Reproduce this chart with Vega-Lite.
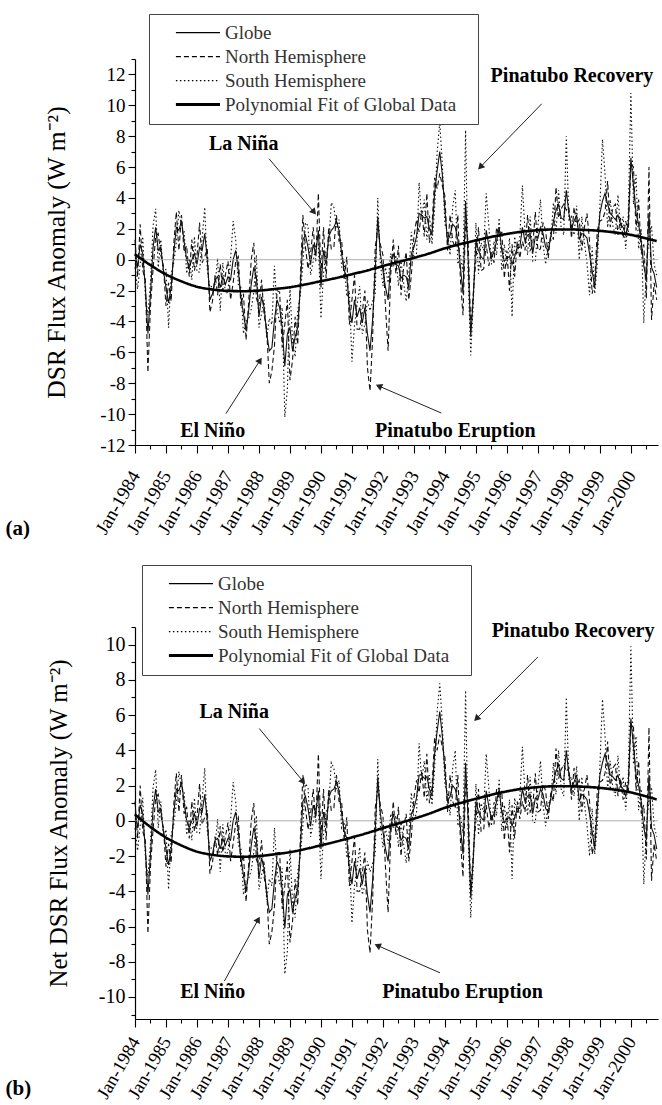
{
"$schema": "https://vega.github.io/schema/vega-lite/v6.json",
"padding": {"left": 5, "top": 13, "right": 0, "bottom": 0},
"background": "white",
"spacing": 26,
"config": {
  "view": {"stroke": null},
  "font": "Liberation Serif",
  "axis": {"grid": false, "domainColor": "black", "tickColor": "black", "labelColor": "black", "titleColor": "black", "labelFont": "Liberation Serif", "titleFont": "Liberation Serif", "titleFontWeight": "normal", "domainWidth": 1.2, "tickWidth": 1.1, "labelOverlap": false, "labelFlush": false, "labelBound": false, "tickCount": 100}
},
"resolve": {"scale": {"strokeDash": "independent"}, "legend": {"strokeDash": "independent"}},
"datasets": {
"d": [
{"m":0,"g":0.4,"n":1.3,"s":-0.5,"G":0.4,"N":1.1,"S":-0.4},
{"m":1,"g":-0.5,"n":-1.1,"s":-1.9,"G":-0.4,"N":-1.0,"S":-1.7},
{"m":2,"g":1.0,"n":2.3,"s":-0.3,"G":0.9,"N":2.0,"S":-0.3},
{"m":3,"g":0.4,"n":-0.7,"s":1.5,"G":0.4,"N":-0.6,"S":1.3},
{"m":4,"g":-1.8,"n":-1.3,"s":-2.3,"G":-1.6,"N":-1.1,"S":-2.0},
{"m":5,"g":-4.8,"n":-7.3,"s":-3.6,"G":-4.2,"N":-6.4,"S":-3.2},
{"m":6,"g":-2.2,"n":-3.0,"s":-1.4,"G":-1.9,"N":-2.6,"S":-1.2},
{"m":7,"g":0.8,"n":-0.6,"s":2.2,"G":0.7,"N":-0.5,"S":1.9},
{"m":8,"g":2.1,"n":1.5,"s":3.3,"G":1.8,"N":1.3,"S":2.9},
{"m":9,"g":0.6,"n":1.7,"s":-0.5,"G":0.5,"N":1.5,"S":-0.4},
{"m":10,"g":0.8,"n":0.3,"s":1.3,"G":0.7,"N":0.3,"S":1.1},
{"m":11,"g":-0.7,"n":-0.4,"s":-1.0,"G":-0.6,"N":-0.4,"S":-0.9},
{"m":12,"g":-1.8,"n":-3.0,"s":-0.6,"G":-1.6,"N":-2.6,"S":-0.5},
{"m":13,"g":-2.8,"n":-1.5,"s":-4.4,"G":-2.5,"N":-1.3,"S":-3.9},
{"m":14,"g":-1.8,"n":-2.7,"s":-0.9,"G":-1.6,"N":-2.4,"S":-0.8},
{"m":15,"g":0.4,"n":1.0,"s":-0.2,"G":0.4,"N":0.9,"S":-0.2},
{"m":16,"g":2.1,"n":3.1,"s":1.1,"G":1.8,"N":2.7,"S":1.0},
{"m":17,"g":1.9,"n":0.6,"s":3.2,"G":1.7,"N":0.5,"S":2.8},
{"m":18,"g":2.5,"n":2.9,"s":2.1,"G":2.2,"N":2.6,"S":1.8},
{"m":19,"g":1.2,"n":0.5,"s":1.9,"G":1.1,"N":0.4,"S":1.7},
{"m":20,"g":0.0,"n":0.9,"s":-0.9,"G":0.0,"N":0.8,"S":-0.8},
{"m":21,"g":-0.5,"n":-1.1,"s":0.1,"G":-0.4,"N":-1.0,"S":0.1},
{"m":22,"g":0.0,"n":1.3,"s":-1.3,"G":0.0,"N":1.1,"S":-1.1},
{"m":23,"g":0.4,"n":-0.7,"s":1.5,"G":0.4,"N":-0.6,"S":1.3},
{"m":24,"g":-0.3,"n":0.2,"s":-0.8,"G":-0.3,"N":0.2,"S":-0.7},
{"m":25,"g":0.8,"n":2.4,"s":-0.8,"G":0.7,"N":2.1,"S":-0.7},
{"m":26,"g":0.6,"n":-0.2,"s":1.4,"G":0.5,"N":-0.2,"S":1.2},
{"m":27,"g":1.7,"n":0.2,"s":3.4,"G":1.5,"N":0.2,"S":3.0},
{"m":28,"g":0.0,"n":0.7,"s":-0.7,"G":0.0,"N":0.6,"S":-0.6},
{"m":29,"g":-2.6,"n":-3.4,"s":-1.8,"G":-2.3,"N":-3.0,"S":-1.6},
{"m":30,"g":-2.2,"n":-2.7,"s":-1.7,"G":-1.9,"N":-2.4,"S":-1.5},
{"m":31,"g":-1.3,"n":-1.0,"s":-1.6,"G":-1.1,"N":-0.9,"S":-1.4},
{"m":32,"g":-1.1,"n":-2.3,"s":0.1,"G":-1.0,"N":-2.0,"S":0.1},
{"m":33,"g":-1.8,"n":-0.3,"s":-3.3,"G":-1.6,"N":-0.3,"S":-2.9},
{"m":34,"g":-1.1,"n":-2.0,"s":-0.2,"G":-1.0,"N":-1.8,"S":-0.2},
{"m":35,"g":-1.6,"n":-1.0,"s":-2.2,"G":-1.4,"N":-0.9,"S":-1.9},
{"m":36,"g":-1.1,"n":-0.1,"s":-2.1,"G":-1.0,"N":-0.1,"S":-1.8},
{"m":37,"g":-1.3,"n":-2.6,"s":0.0,"G":-1.1,"N":-2.3,"S":0.0},
{"m":38,"g":0.0,"n":-1.5,"s":2.5,"G":0.0,"N":-1.3,"S":2.2},
{"m":39,"g":0.6,"n":-0.1,"s":1.3,"G":0.5,"N":-0.1,"S":1.1},
{"m":40,"g":-0.7,"n":0.2,"s":-1.6,"G":-0.6,"N":0.2,"S":-1.4},
{"m":41,"g":-2.4,"n":-3.0,"s":-1.8,"G":-2.1,"N":-2.6,"S":-1.6},
{"m":42,"g":-3.5,"n":-2.2,"s":-4.8,"G":-3.1,"N":-1.9,"S":-4.2},
{"m":43,"g":-4.6,"n":-5.2,"s":-4.0,"G":-4.0,"N":-4.6,"S":-3.5},
{"m":44,"g":-3.3,"n":-2.8,"s":-3.8,"G":-2.9,"N":-2.5,"S":-3.3},
{"m":45,"g":-1.6,"n":0.0,"s":-3.2,"G":-1.4,"N":0.0,"S":-2.8},
{"m":46,"g":-0.5,"n":1.1,"s":-2.1,"G":-0.4,"N":1.0,"S":-1.8},
{"m":47,"g":-1.1,"n":-2.5,"s":0.3,"G":-1.0,"N":-2.2,"S":0.3},
{"m":48,"g":-3.7,"n":-3.0,"s":-4.4,"G":-3.3,"N":-2.6,"S":-3.9},
{"m":49,"g":-2.4,"n":-1.3,"s":-3.5,"G":-2.1,"N":-1.1,"S":-3.1},
{"m":50,"g":-3.1,"n":-3.6,"s":-2.6,"G":-2.7,"N":-3.2,"S":-2.3},
{"m":51,"g":-4.8,"n":-4.5,"s":-5.1,"G":-4.2,"N":-4.0,"S":-4.5},
{"m":52,"g":-5.9,"n":-8.0,"s":-3.8,"G":-5.2,"N":-7.0,"S":-3.3},
{"m":53,"g":-5.7,"n":-7.2,"s":-4.2,"G":-5.0,"N":-6.3,"S":-3.7},
{"m":54,"g":-3.9,"n":-5.6,"s":-0.4,"G":-3.4,"N":-4.9,"S":-0.4},
{"m":55,"g":-2.6,"n":-2.0,"s":-3.2,"G":-2.3,"N":-1.8,"S":-2.8},
{"m":56,"g":-3.1,"n":-2.1,"s":-4.1,"G":-2.7,"N":-1.8,"S":-3.6},
{"m":57,"g":-4.4,"n":-5.7,"s":-3.1,"G":-3.9,"N":-5.0,"S":-2.7},
{"m":58,"g":-6.9,"n":-4.2,"s":-10.2,"G":-6.1,"N":-3.7,"S":-8.7},
{"m":59,"g":-4.8,"n":-2.6,"s":-8.4,"G":-4.2,"N":-2.3,"S":-7.4},
{"m":60,"g":-4.4,"n":-7.8,"s":-1.8,"G":-3.9,"N":-6.9,"S":-1.6},
{"m":61,"g":-5.9,"n":-6.5,"s":-5.3,"G":-5.2,"N":-5.7,"S":-4.7},
{"m":62,"g":-5.0,"n":-3.7,"s":-6.3,"G":-4.4,"N":-3.3,"S":-5.5},
{"m":63,"g":-4.4,"n":-5.5,"s":-3.3,"G":-3.9,"N":-4.8,"S":-2.9},
{"m":64,"g":-1.8,"n":-1.3,"s":-2.3,"G":-1.6,"N":-1.1,"S":-2.0},
{"m":65,"g":1.3,"n":2.9,"s":-0.3,"G":1.1,"N":2.6,"S":-0.3},
{"m":66,"g":1.6,"n":0.8,"s":2.4,"G":1.4,"N":0.7,"S":2.1},
{"m":67,"g":0.8,"n":-0.6,"s":2.2,"G":0.7,"N":-0.5,"S":1.9},
{"m":68,"g":-0.3,"n":0.4,"s":-1.0,"G":-0.3,"N":0.4,"S":-0.9},
{"m":69,"g":1.0,"n":2.1,"s":-0.1,"G":0.9,"N":1.8,"S":-0.1},
{"m":70,"g":0.4,"n":-0.1,"s":0.9,"G":0.4,"N":-0.1,"S":0.8},
{"m":71,"g":1.9,"n":4.3,"s":1.0,"G":1.7,"N":3.8,"S":0.9},
{"m":72,"g":-1.8,"n":-1.0,"s":-3.8,"G":-1.6,"N":-0.9,"S":-3.3},
{"m":73,"g":0.6,"n":2.1,"s":-0.9,"G":0.5,"N":1.8,"S":-0.8},
{"m":74,"g":-0.3,"n":-1.2,"s":0.6,"G":-0.3,"N":-1.1,"S":0.5},
{"m":75,"g":1.5,"n":2.1,"s":0.9,"G":1.3,"N":1.8,"S":0.8},
{"m":76,"g":1.9,"n":0.7,"s":3.7,"G":1.7,"N":0.6,"S":3.3},
{"m":77,"g":2.1,"n":0.8,"s":3.4,"G":1.8,"N":0.7,"S":3.0},
{"m":78,"g":2.5,"n":2.9,"s":2.1,"G":2.2,"N":2.6,"S":1.8},
{"m":79,"g":1.9,"n":1.2,"s":2.6,"G":1.7,"N":1.1,"S":2.3},
{"m":80,"g":0.4,"n":1.3,"s":-0.5,"G":0.4,"N":1.1,"S":-0.4},
{"m":81,"g":-0.7,"n":-1.3,"s":-0.1,"G":-0.6,"N":-1.1,"S":-0.1},
{"m":82,"g":-1.1,"n":0.2,"s":-2.4,"G":-1.0,"N":0.2,"S":-2.1},
{"m":83,"g":-3.1,"n":-4.2,"s":-2.0,"G":-2.7,"N":-3.7,"S":-1.8},
{"m":84,"g":-4.1,"n":-2.6,"s":-6.6,"G":-3.6,"N":-2.3,"S":-5.8},
{"m":85,"g":-2.6,"n":-1.0,"s":-4.2,"G":-2.3,"N":-0.9,"S":-3.7},
{"m":86,"g":-3.7,"n":-4.5,"s":-2.9,"G":-3.3,"N":-4.0,"S":-2.6},
{"m":87,"g":-3.1,"n":-4.5,"s":-1.7,"G":-2.7,"N":-4.0,"S":-1.5},
{"m":88,"g":-4.1,"n":-3.4,"s":-4.8,"G":-3.6,"N":-3.0,"S":-4.2},
{"m":89,"g":-3.1,"n":-2.0,"s":-4.2,"G":-2.7,"N":-1.8,"S":-3.7},
{"m":90,"g":-4.8,"n":-7.0,"s":-2.6,"G":-4.2,"N":-6.2,"S":-2.3},
{"m":91,"g":-5.9,"n":-8.5,"s":-3.3,"G":-5.2,"N":-7.5,"S":-2.9},
{"m":92,"g":-3.9,"n":-5.1,"s":-2.7,"G":-3.4,"N":-4.5,"S":-2.4},
{"m":93,"g":-0.7,"n":0.8,"s":-2.2,"G":-0.6,"N":0.7,"S":-1.9},
{"m":94,"g":2.8,"n":2.0,"s":4.0,"G":2.5,"N":1.8,"S":3.5},
{"m":95,"g":0.4,"n":1.0,"s":-0.2,"G":0.4,"N":0.9,"S":-0.2},
{"m":96,"g":-0.7,"n":0.3,"s":-1.7,"G":-0.6,"N":0.3,"S":-1.5},
{"m":97,"g":-1.8,"n":-3.1,"s":-0.5,"G":-1.6,"N":-2.7,"S":-0.4},
{"m":98,"g":-2.6,"n":-5.9,"s":-1.5,"G":-2.3,"N":-5.2,"S":-1.3},
{"m":99,"g":-0.3,"n":-1.0,"s":0.4,"G":-0.3,"N":-0.9,"S":0.4},
{"m":100,"g":0.4,"n":1.3,"s":-0.5,"G":0.4,"N":1.1,"S":-0.4},
{"m":101,"g":-0.3,"n":-0.9,"s":0.3,"G":-0.3,"N":-0.8,"S":0.3},
{"m":102,"g":-0.4,"n":0.9,"s":-1.7,"G":-0.4,"N":0.8,"S":-1.5},
{"m":103,"g":-1.2,"n":-2.3,"s":-0.1,"G":-1.1,"N":-2.0,"S":-0.1},
{"m":104,"g":-1.0,"n":-0.5,"s":-1.5,"G":-0.9,"N":-0.4,"S":-1.3},
{"m":105,"g":-1.1,"n":0.5,"s":-2.7,"G":-1.0,"N":0.4,"S":-2.4},
{"m":106,"g":-1.8,"n":-2.6,"s":-1.0,"G":-1.6,"N":-2.3,"S":-0.9},
{"m":107,"g":0.4,"n":-1.0,"s":1.8,"G":0.4,"N":-0.9,"S":1.6},
{"m":108,"g":0.8,"n":1.5,"s":0.1,"G":0.7,"N":1.3,"S":0.1},
{"m":109,"g":1.5,"n":2.6,"s":0.4,"G":1.3,"N":2.3,"S":0.4},
{"m":110,"g":3.0,"n":1.8,"s":5.0,"G":2.6,"N":1.6,"S":4.4},
{"m":111,"g":2.9,"n":3.2,"s":2.6,"G":2.6,"N":2.8,"S":2.3},
{"m":112,"g":2.7,"n":1.5,"s":3.9,"G":2.4,"N":1.3,"S":3.4},
{"m":113,"g":2.8,"n":4.3,"s":1.3,"G":2.5,"N":3.8,"S":1.1},
{"m":114,"g":2.0,"n":1.1,"s":2.9,"G":1.8,"N":1.0,"S":2.6},
{"m":115,"g":1.6,"n":2.2,"s":1.0,"G":1.4,"N":1.9,"S":0.9},
{"m":116,"g":4.3,"n":5.3,"s":3.3,"G":3.8,"N":4.7,"S":2.9},
{"m":117,"g":5.8,"n":4.6,"s":7.0,"G":5.1,"N":4.0,"S":6.2},
{"m":118,"g":7.0,"n":5.6,"s":8.9,"G":6.2,"N":4.9,"S":7.8},
{"m":119,"g":5.5,"n":4.8,"s":6.2,"G":4.8,"N":4.2,"S":5.5},
{"m":120,"g":3.2,"n":4.1,"s":2.3,"G":2.8,"N":3.6,"S":2.0},
{"m":121,"g":1.2,"n":0.6,"s":1.8,"G":1.1,"N":0.5,"S":1.6},
{"m":122,"g":1.6,"n":2.9,"s":0.3,"G":1.4,"N":2.6,"S":0.3},
{"m":123,"g":2.3,"n":1.2,"s":3.4,"G":2.0,"N":1.1,"S":3.0},
{"m":124,"g":2.1,"n":0.8,"s":4.5,"G":1.8,"N":0.7,"S":4.0},
{"m":125,"g":1.3,"n":2.9,"s":-0.3,"G":1.1,"N":2.6,"S":-0.3},
{"m":126,"g":-0.5,"n":-1.3,"s":0.3,"G":-0.4,"N":-1.1,"S":0.3},
{"m":127,"g":-2.2,"n":-3.6,"s":-0.8,"G":-1.9,"N":-3.2,"S":-0.7},
{"m":128,"g":3.8,"n":2.5,"s":8.4,"G":3.3,"N":2.2,"S":7.4},
{"m":129,"g":0.0,"n":1.1,"s":-1.1,"G":0.0,"N":1.0,"S":-1.0},
{"m":130,"g":-5.0,"n":-4.5,"s":-6.2,"G":-4.4,"N":-4.0,"S":-5.5},
{"m":131,"g":-2.4,"n":-2.1,"s":-2.7,"G":-2.1,"N":-1.8,"S":-2.4},
{"m":132,"g":1.2,"n":0.0,"s":2.4,"G":1.1,"N":0.0,"S":2.1},
{"m":133,"g":0.6,"n":2.1,"s":-0.9,"G":0.5,"N":1.8,"S":-0.8},
{"m":134,"g":0.2,"n":-0.7,"s":1.1,"G":0.2,"N":-0.6,"S":1.0},
{"m":135,"g":0.0,"n":-0.6,"s":0.6,"G":0.0,"N":-0.5,"S":0.5},
{"m":136,"g":1.9,"n":1.0,"s":4.3,"G":1.7,"N":0.9,"S":3.8},
{"m":137,"g":0.9,"n":-0.4,"s":2.2,"G":0.8,"N":-0.4,"S":1.9},
{"m":138,"g":0.1,"n":0.5,"s":-0.3,"G":0.1,"N":0.4,"S":-0.3},
{"m":139,"g":0.5,"n":-0.2,"s":1.2,"G":0.4,"N":-0.2,"S":1.1},
{"m":140,"g":1.2,"n":2.1,"s":0.3,"G":1.1,"N":1.8,"S":0.3},
{"m":141,"g":2.1,"n":1.5,"s":2.7,"G":1.8,"N":1.3,"S":2.4},
{"m":142,"g":0.6,"n":1.9,"s":-0.7,"G":0.5,"N":1.7,"S":-0.6},
{"m":143,"g":-0.1,"n":-1.2,"s":1.0,"G":-0.1,"N":-1.1,"S":0.9},
{"m":144,"g":0.1,"n":0.6,"s":-0.4,"G":0.1,"N":0.5,"S":-0.4},
{"m":145,"g":0.2,"n":-2.0,"s":1.4,"G":0.2,"N":-1.8,"S":1.2},
{"m":146,"g":-0.3,"n":1.0,"s":-3.7,"G":-0.3,"N":0.9,"S":-3.3},
{"m":147,"g":0.2,"n":-1.1,"s":1.5,"G":0.2,"N":-1.0,"S":1.3},
{"m":148,"g":0.8,"n":1.2,"s":0.4,"G":0.7,"N":1.1,"S":0.4},
{"m":149,"g":0.8,"n":0.1,"s":1.5,"G":0.7,"N":0.1,"S":1.3},
{"m":150,"g":2.1,"n":1.2,"s":4.8,"G":1.8,"N":1.1,"S":4.2},
{"m":151,"g":1.2,"n":0.6,"s":1.8,"G":1.1,"N":0.5,"S":1.6},
{"m":152,"g":1.6,"n":2.9,"s":0.3,"G":1.4,"N":2.6,"S":0.3},
{"m":153,"g":1.7,"n":0.6,"s":2.8,"G":1.5,"N":0.5,"S":2.5},
{"m":154,"g":0.4,"n":0.9,"s":-0.1,"G":0.4,"N":0.8,"S":-0.1},
{"m":155,"g":1.5,"n":3.1,"s":-0.1,"G":1.3,"N":2.7,"S":-0.1},
{"m":156,"g":1.4,"n":0.6,"s":2.2,"G":1.2,"N":0.5,"S":1.9},
{"m":157,"g":2.1,"n":0.7,"s":3.9,"G":1.8,"N":0.6,"S":3.4},
{"m":158,"g":1.7,"n":2.4,"s":1.0,"G":1.5,"N":2.1,"S":0.9},
{"m":159,"g":0.8,"n":1.9,"s":-0.3,"G":0.7,"N":1.7,"S":-0.3},
{"m":160,"g":0.6,"n":0.1,"s":1.1,"G":0.5,"N":0.1,"S":1.0},
{"m":161,"g":1.5,"n":1.8,"s":1.2,"G":1.3,"N":1.6,"S":1.1},
{"m":162,"g":2.5,"n":1.3,"s":3.7,"G":2.2,"N":1.1,"S":3.3},
{"m":163,"g":3.2,"n":4.7,"s":1.7,"G":2.8,"N":4.1,"S":1.5},
{"m":164,"g":3.6,"n":2.7,"s":4.5,"G":3.2,"N":2.4,"S":4.0},
{"m":165,"g":2.7,"n":3.3,"s":2.1,"G":2.4,"N":2.9,"S":1.8},
{"m":166,"g":2.6,"n":3.6,"s":1.6,"G":2.3,"N":3.2,"S":1.4},
{"m":167,"g":4.5,"n":3.2,"s":8.0,"G":4.0,"N":2.8,"S":7.0},
{"m":168,"g":3.0,"n":3.4,"s":2.6,"G":2.6,"N":3.0,"S":2.3},
{"m":169,"g":2.1,"n":1.4,"s":2.8,"G":1.8,"N":1.2,"S":2.5},
{"m":170,"g":2.5,"n":3.4,"s":1.6,"G":2.2,"N":3.0,"S":1.4},
{"m":171,"g":2.9,"n":2.3,"s":3.5,"G":2.6,"N":2.0,"S":3.1},
{"m":172,"g":1.3,"n":2.6,"s":0.0,"G":1.1,"N":2.3,"S":0.0},
{"m":173,"g":1.7,"n":0.6,"s":2.8,"G":1.5,"N":0.5,"S":2.5},
{"m":174,"g":1.6,"n":2.1,"s":1.1,"G":1.4,"N":1.8,"S":1.0},
{"m":175,"g":1.4,"n":3.0,"s":-0.2,"G":1.2,"N":2.6,"S":-0.2},
{"m":176,"g":0.4,"n":1.2,"s":-2.3,"G":0.4,"N":1.1,"S":-2.0},
{"m":177,"g":-0.7,"n":-2.2,"s":0.8,"G":-0.6,"N":-1.9,"S":0.7},
{"m":178,"g":-1.8,"n":-1.4,"s":-2.2,"G":-1.6,"N":-1.2,"S":-1.9},
{"m":179,"g":0.8,"n":1.9,"s":-0.3,"G":0.7,"N":1.7,"S":-0.3},
{"m":180,"g":3.0,"n":2.5,"s":3.5,"G":2.6,"N":2.2,"S":3.1},
{"m":181,"g":3.8,"n":2.6,"s":7.8,"G":3.3,"N":2.3,"S":6.9},
{"m":182,"g":4.3,"n":3.1,"s":5.5,"G":3.8,"N":2.7,"S":4.8},
{"m":183,"g":3.6,"n":5.1,"s":2.1,"G":3.2,"N":4.5,"S":1.8},
{"m":184,"g":3.0,"n":2.1,"s":3.9,"G":2.6,"N":1.8,"S":3.4},
{"m":185,"g":2.8,"n":3.4,"s":2.2,"G":2.5,"N":3.0,"S":1.9},
{"m":186,"g":2.6,"n":3.6,"s":1.6,"G":2.3,"N":3.2,"S":1.4},
{"m":187,"g":2.9,"n":1.6,"s":4.2,"G":2.6,"N":1.4,"S":3.7},
{"m":188,"g":2.3,"n":2.7,"s":1.9,"G":2.0,"N":2.4,"S":1.7},
{"m":189,"g":2.1,"n":1.4,"s":2.8,"G":1.8,"N":1.2,"S":2.5},
{"m":190,"g":1.6,"n":2.5,"s":0.7,"G":1.4,"N":2.2,"S":0.6},
{"m":191,"g":2.4,"n":1.8,"s":3.0,"G":2.1,"N":1.6,"S":2.6},
{"m":192,"g":6.6,"n":6.2,"s":10.8,"G":5.8,"N":5.5,"S":9.9},
{"m":193,"g":4.8,"n":6.0,"s":3.6,"G":4.2,"N":5.3,"S":3.2},
{"m":194,"g":3.0,"n":1.9,"s":5.5,"G":2.6,"N":1.7,"S":4.8},
{"m":195,"g":2.3,"n":3.9,"s":0.7,"G":2.0,"N":3.4,"S":0.6},
{"m":196,"g":1.2,"n":0.4,"s":2.0,"G":1.1,"N":0.4,"S":1.8},
{"m":197,"g":-0.4,"n":1.0,"s":-4.1,"G":-0.4,"N":0.9,"S":-3.6},
{"m":198,"g":-1.3,"n":-2.5,"s":-0.6,"G":-1.1,"N":-2.2,"S":-0.5},
{"m":199,"g":3.0,"n":6.0,"s":1.5,"G":2.6,"N":5.3,"S":1.3},
{"m":200,"g":-0.5,"n":-3.9,"s":2.2,"G":-0.4,"N":-3.4,"S":1.9},
{"m":201,"g":-0.9,"n":-1.5,"s":-0.3,"G":-0.8,"N":-1.3,"S":-0.3},
{"m":202,"g":-1.8,"n":-2.6,"s":-1.0,"G":-1.6,"N":-2.3,"S":-0.9}
],
"fit": [
{"m":0,"f":0.35},{"m":6,"f":-0.35},{"m":12,"f":-0.95},{"m":18,"f":-1.4},{"m":24,"f":-1.75},{"m":30,"f":-1.93},{"m":36,"f":-2.02},{"m":42,"f":-2.04},{"m":48,"f":-2.0},{"m":54,"f":-1.9},{"m":60,"f":-1.78},{"m":66,"f":-1.6},{"m":72,"f":-1.39},{"m":78,"f":-1.18},{"m":84,"f":-0.94},{"m":90,"f":-0.69},{"m":96,"f":-0.41},{"m":102,"f":-0.15},{"m":108,"f":0.12},{"m":114,"f":0.41},{"m":120,"f":0.74},{"m":126,"f":1.01},{"m":132,"f":1.25},{"m":138,"f":1.48},{"m":144,"f":1.67},{"m":150,"f":1.82},{"m":156,"f":1.91},{"m":162,"f":1.96},{"m":168,"f":1.96},{"m":174,"f":1.93},{"m":180,"f":1.87},{"m":186,"f":1.76},{"m":192,"f":1.61},{"m":198,"f":1.38},{"m":202,"f":1.21}
]
},
"vconcat": [
{
 "width": 523, "height": 386,
 "layer": [
  {
   "data": {"name": "d"},
   "transform": [{"fold": ["s", "n", "g"], "as": ["series", "val"]}],
   "mark": {"type": "line", "color": "#111111", "strokeWidth": 1.1},
   "encoding": {
    "x": {"field": "m", "type": "quantitative", "scale": {"domain": [0, 202.5], "nice": false, "zero": false},
     "axis": {"values": [0,6,12,18,24,30,36,42,48,54,60,66,72,78,84,90,96,102,108,114,120,126,132,138,144,150,156,162,168,174,180,186,192,198],
      "tickCount": 100,
      "labelExpr": "datum.value % 12 == 0 ? 'Jan-' + (1984 + datum.value / 12) : ''",
      "labelAngle": -60, "labelAlign": "right", "labelBaseline": "middle", "labelPadding": 19, "labelFontSize": 19,
      "labelOverlap": false, "labelFlush": false,
      "tickSize": 8,
      "tickDash": {"condition": {"test": "datum.value % 12 != 0", "value": [4, 20]}, "value": [8, 0]},
      "title": "(a)", "titleFontSize": 21, "titleFontWeight": "bold", "titleAnchor": "start", "titleAlign": "left", "titleBaseline": "middle", "titleX": -130, "titleY": 83}},
    "y": {"field": "val", "type": "quantitative", "scale": {"domain": [-12, 13], "nice": false, "zero": false},
     "axis": {"values": [-12,-11,-10,-9,-8,-7,-6,-5,-4,-3,-2,-1,0,1,2,3,4,5,6,7,8,9,10,11,12,13],
      "tickCount": 100,
      "labelExpr": "datum.value % 2 == 0 ? '' + datum.value : ''",
      "labelFontSize": 19, "labelPadding": 3, "labelOverlap": false, "labelFlush": false,
      "tickSize": 7,
      "tickDash": {"condition": {"test": "datum.value % 2 != 0", "value": [4, 20]}, "value": [7, 0]},
      "title": "DSR Flux Anomaly (W m⁻²)", "titleFontSize": 25.5, "titlePadding": 30}},
    "strokeDash": {"field": "series", "type": "nominal",
     "scale": {"domain": ["g", "n", "s", "f"], "range": [[1, 0], [5, 3], [1.5, 2.5], [1, 0]]},
     "legend": {"orient": "none", "legendX": 14, "legendY": -45, "title": null, "zindex": 1,
      "strokeColor": "#444444", "fillColor": "white", "padding": 7, "rowPadding": 0, "clipHeight": 23.2,
      "symbolType": "M-0.4,0L1,0", "symbolSize": 3969, "symbolStrokeColor": "black", "symbolStrokeWidth": 1.2, "symbolFillColor": "transparent",
      "labelFont": "Liberation Serif", "labelFontSize": 19, "labelColor": "#333333", "labelLimit": 400, "labelOffset": 4,
      "labelExpr": "lower(datum.label) == 'g' ? 'Globe' : lower(datum.label) == 'n' ? 'North Hemisphere' : lower(datum.label) == 's' ? 'South Hemisphere' : 'Polynomial Fit of Global Data\u2800'",
      "encode": {"symbols": {"update": {"strokeWidth": {"signal": "(datum.value == 'f' ? 3 : 1.2)"}}}}}
    }
   }
  },
  {
   "data": {"values": [{"z": 0}]},
   "mark": {"type": "rule", "color": "#999999", "strokeWidth": 0.8},
   "encoding": {"y": {"field": "z", "type": "quantitative"}}
  },
  {
   "data": {"name": "fit"},
   "transform": [{"fold": ["f"], "as": ["series", "val"]}],
   "mark": {"type": "line", "color": "#000000", "strokeWidth": 2.6, "interpolate": "monotone"},
   "encoding": {
    "x": {"field": "m", "type": "quantitative"},
    "y": {"field": "val", "type": "quantitative"},
    "strokeDash": {"field": "series", "type": "nominal"}
   }
  },
  {
   "data": {"values": [{"m": 42.1, "v": 7.5, "t": "La Niña"}, {"m": 169.2, "v": 11.9, "t": "Pinatubo Recovery"}, {"m": 30.1, "v": -11.1, "t": "El Niño"}, {"m": 124, "v": -11.1, "t": "Pinatubo Eruption"}]},
   "mark": {"type": "text", "font": "Liberation Serif", "fontSize": 20, "fontWeight": "bold", "align": "center", "baseline": "middle", "color": "black"},
   "encoding": {
    "x": {"field": "m", "type": "quantitative"},
    "y": {"field": "v", "type": "quantitative"},
    "text": {"field": "t"}
   }
  },
  {
   "data": {"values": [{"m1": 51.9, "v1": 6.54, "m2": 69.3, "v2": 3.08}, {"m1": 157.5, "v1": 10.1, "m2": 133.7, "v2": 6.0}, {"m1": 35.2, "v1": -9.97, "m2": 48.4, "v2": -6.52}, {"m1": 118.6, "v1": -9.93, "m2": 94.4, "v2": -8.18}]},
   "mark": {"type": "rule", "color": "#222222", "strokeWidth": 1},
   "encoding": {
    "x": {"field": "m1", "type": "quantitative"},
    "y": {"field": "v1", "type": "quantitative"},
    "x2": {"field": "m2"}, "y2": {"field": "v2"}
   }
  },
  {
   "data": {"values": [{"m1": 51.9, "v1": 6.54, "m2": 69.3, "v2": 3.08}, {"m1": 157.5, "v1": 10.1, "m2": 133.7, "v2": 6.0}, {"m1": 35.2, "v1": -9.97, "m2": 48.4, "v2": -6.52}, {"m1": 118.6, "v1": -9.93, "m2": 94.4, "v2": -8.18}]},
   "transform": [{"calculate": "atan2(-(datum.v2 - datum.v1) * 15.44, (datum.m2 - datum.m1) * 2.583) * 180 / PI", "as": "ang"}],
   "mark": {"type": "point", "shape": "triangle-right", "filled": true, "color": "#222222", "size": 55, "opacity": 1},
   "encoding": {
    "x": {"field": "m2", "type": "quantitative"},
    "y": {"field": "v2", "type": "quantitative"},
    "angle": {"field": "ang", "type": "quantitative", "scale": null}
   }
  }
 ]
},
{
 "width": 523, "height": 392,
 "layer": [
  {
   "data": {"name": "d"},
   "transform": [{"fold": ["S", "N", "G"], "as": ["series", "val"]}],
   "mark": {"type": "line", "color": "#111111", "strokeWidth": 1.1},
   "encoding": {
    "x": {"field": "m", "type": "quantitative", "scale": {"domain": [0, 202.5], "nice": false, "zero": false},
     "axis": {"values": [0,6,12,18,24,30,36,42,48,54,60,66,72,78,84,90,96,102,108,114,120,126,132,138,144,150,156,162,168,174,180,186,192,198],
      "tickCount": 100,
      "labelExpr": "datum.value % 12 == 0 ? 'Jan-' + (1984 + datum.value / 12) : ''",
      "labelAngle": -60, "labelAlign": "right", "labelBaseline": "middle", "labelPadding": 11, "labelFontSize": 18.5,
      "labelOverlap": false, "labelFlush": false,
      "tickSize": 8,
      "tickDash": {"condition": {"test": "datum.value % 12 != 0", "value": [4, 20]}, "value": [8, 0]},
      "title": "(b)", "titleFontSize": 21, "titleFontWeight": "bold", "titleAnchor": "start", "titleAlign": "left", "titleBaseline": "middle", "titleX": -130, "titleY": 69}},
    "y": {"field": "val", "type": "quantitative", "scale": {"domain": [-11.25, 11], "nice": false, "zero": false},
     "axis": {"values": [-11,-10,-9,-8,-7,-6,-5,-4,-3,-2,-1,0,1,2,3,4,5,6,7,8,9,10,11],
      "tickCount": 100,
      "labelExpr": "datum.value % 2 == 0 ? '' + datum.value : ''",
      "labelFontSize": 20, "labelPadding": 3, "labelOverlap": false, "labelFlush": false,
      "tickSize": 7,
      "tickDash": {"condition": {"test": "datum.value % 2 != 0", "value": [4, 20]}, "value": [7, 0]},
      "title": "Net DSR Flux Anomaly (W m⁻²)", "titleFontSize": 25, "titlePadding": 27}},
    "strokeDash": {"field": "series", "type": "nominal",
     "scale": {"domain": ["G", "N", "S", "f"], "range": [[1, 0], [5, 3], [1.5, 2.5], [1, 0]]},
     "legend": {"orient": "none", "legendX": 7, "legendY": -62, "title": null, "zindex": 1,
      "strokeColor": "#444444", "fillColor": "white", "padding": 7, "rowPadding": 0, "clipHeight": 23.2,
      "symbolType": "M-0.4,0L1,0", "symbolSize": 3969, "symbolStrokeColor": "black", "symbolStrokeWidth": 1.2, "symbolFillColor": "transparent",
      "labelFont": "Liberation Serif", "labelFontSize": 19, "labelColor": "#333333", "labelLimit": 400, "labelOffset": 4,
      "labelExpr": "lower(datum.label) == 'g' ? 'Globe' : lower(datum.label) == 'n' ? 'North Hemisphere' : lower(datum.label) == 's' ? 'South Hemisphere' : 'Polynomial Fit of Global Data\u2800'",
      "encode": {"symbols": {"update": {"strokeWidth": {"signal": "(datum.value == 'f' ? 3 : 1.2)"}}}}}
    }
   }
  },
  {
   "data": {"values": [{"z": 0}]},
   "mark": {"type": "rule", "color": "#999999", "strokeWidth": 0.8},
   "encoding": {"y": {"field": "z", "type": "quantitative"}}
  },
  {
   "data": {"name": "fit"},
   "transform": [{"fold": ["f"], "as": ["series", "val"]}],
   "mark": {"type": "line", "color": "#000000", "strokeWidth": 2.6, "interpolate": "monotone"},
   "encoding": {
    "x": {"field": "m", "type": "quantitative"},
    "y": {"field": "val", "type": "quantitative"},
    "strokeDash": {"field": "series", "type": "nominal"}
   }
  },
  {
   "data": {"values": [{"m": 38.4, "v": 6.2, "t": "La Niña"}, {"m": 169.6, "v": 10.8, "t": "Pinatubo Recovery"}, {"m": 30.1, "v": -9.7, "t": "El Niño"}, {"m": 126.8, "v": -9.7, "t": "Pinatubo Eruption"}]},
   "mark": {"type": "text", "font": "Liberation Serif", "fontSize": 20, "fontWeight": "bold", "align": "center", "baseline": "middle", "color": "black"},
   "encoding": {
    "x": {"field": "m", "type": "quantitative"},
    "y": {"field": "v", "type": "quantitative"},
    "text": {"field": "t"}
   }
  },
  {
   "data": {"values": [{"m1": 48.1, "v1": 5.24, "m2": 65.1, "v2": 2.23}, {"m1": 156, "v1": 9.3, "m2": 132.2, "v2": 5.8}, {"m1": 34.6, "v1": -9.1, "m2": 47.7, "v2": -5.6}, {"m1": 118.1, "v1": -8.63, "m2": 93.9, "v2": -7.08}]},
   "mark": {"type": "rule", "color": "#222222", "strokeWidth": 1},
   "encoding": {
    "x": {"field": "m1", "type": "quantitative"},
    "y": {"field": "v1", "type": "quantitative"},
    "x2": {"field": "m2"}, "y2": {"field": "v2"}
   }
  },
  {
   "data": {"values": [{"m1": 48.1, "v1": 5.24, "m2": 65.1, "v2": 2.23}, {"m1": 156, "v1": 9.3, "m2": 132.2, "v2": 5.8}, {"m1": 34.6, "v1": -9.1, "m2": 47.7, "v2": -5.6}, {"m1": 118.1, "v1": -8.63, "m2": 93.9, "v2": -7.08}]},
   "transform": [{"calculate": "atan2(-(datum.v2 - datum.v1) * 17.62, (datum.m2 - datum.m1) * 2.583) * 180 / PI", "as": "ang"}],
   "mark": {"type": "point", "shape": "triangle-right", "filled": true, "color": "#222222", "size": 55, "opacity": 1},
   "encoding": {
    "x": {"field": "m2", "type": "quantitative"},
    "y": {"field": "v2", "type": "quantitative"},
    "angle": {"field": "ang", "type": "quantitative", "scale": null}
   }
  }
 ]
}
]
}
